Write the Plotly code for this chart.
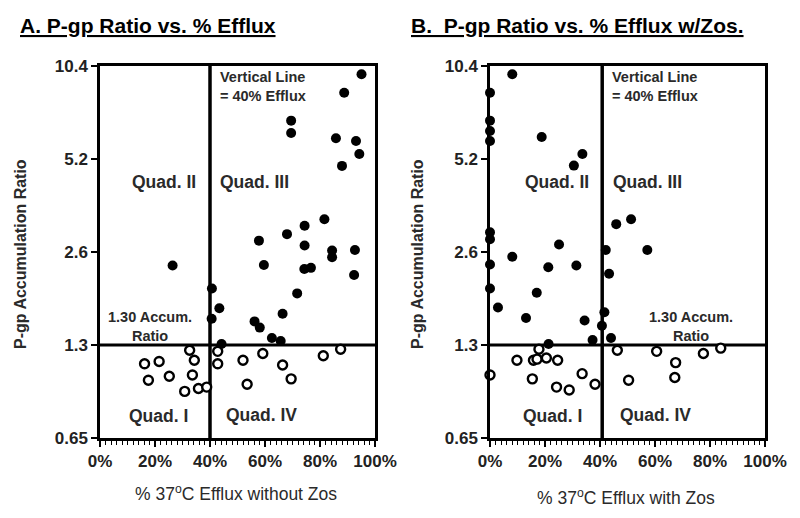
import math
import plotly.graph_objects as go

# ---------------- data ----------------
a_filled_x = [95.1, 88.8, 69.5, 69.5, 85.8, 93.1, 94.3, 88.0, 81.6, 74.4, 68.0, 57.8, 74.4, 84.4, 92.7,
              84.4, 26.4, 59.6, 74.3, 76.7, 92.4, 40.7, 71.7, 43.4, 66.4, 40.6, 56.2, 58.1, 62.5, 65.7, 44.2]
a_filled_y = [9.78, 8.52, 6.92, 6.31, 6.07, 5.95, 5.40, 4.94, 3.32, 3.16, 2.97, 2.83, 2.73, 2.63, 2.64,
              2.50, 2.35, 2.36, 2.29, 2.31, 2.19, 1.98, 1.91, 1.71, 1.64, 1.58, 1.55, 1.48, 1.37, 1.34, 1.31]
a_open_x = [32.6, 42.8, 59.2, 87.5, 81.2, 16.2, 21.5, 34.3, 42.8, 52.0, 66.4, 17.6, 25.2, 33.6, 69.5,
            53.5, 30.8, 35.8, 38.8]
a_open_y = [1.25, 1.24, 1.22, 1.26, 1.20, 1.13, 1.15, 1.16, 1.13, 1.16, 1.12, 1.00, 1.03, 1.04, 1.01,
            0.97, 0.92, 0.94, 0.95]

b_filled_x = [8.1, 0, 0, 0, 0, 18.8, 33.6, 30.5, 51.3, 45.9, 0, 0, 25.1, 42.1, 57.2, 8.1, 0, 21.2, 31.4,
              43.3, 0, 17.0, 2.9, 41.6, 13.1, 34.4, 40.7, 37.3, 44.0, 21.3]
b_filled_y = [9.78, 8.52, 6.92, 6.41, 5.95, 6.13, 5.40, 4.95, 3.32, 3.20, 3.01, 2.86, 2.75, 2.64, 2.64,
              2.51, 2.37, 2.32, 2.35, 2.21, 1.98, 1.92, 1.72, 1.66, 1.59, 1.56, 1.50, 1.35, 1.37, 1.31]
b_open_x = [17.8, 46.3, 60.6, 83.9, 77.6, 9.8, 15.8, 17.1, 20.5, 24.6, 67.5, 0, 15.4, 33.5, 67.2, 50.4,
            38.2, 24.2, 28.8]
b_open_y = [1.26, 1.25, 1.24, 1.27, 1.22, 1.16, 1.16, 1.17, 1.18, 1.16, 1.14, 1.04, 1.01, 1.05, 1.02, 1.00,
            0.97, 0.95, 0.93]

y_ticks = [0.65, 1.3, 2.6, 5.2, 10.4]
y_tick_labels = ["0.65", "1.3", "2.6", "5.2", "10.4"]
x_ticks = [0, 20, 40, 60, 80, 100]
x_tick_labels = ["0%", "20%", "40%", "60%", "80%", "100%"]
ratio_cut = 1.3
efflux_cut_a = 40
efflux_cut_b = 40.8

FONT = "Liberation Sans, Arial, sans-serif"
W, H = 800, 518
OFF = 8  # page body margin offset of the rendered figure

fig = go.Figure()

panels = [
    dict(xa="x", ya="y", fx=a_filled_x, fy=a_filled_y, ox=a_open_x, oy=a_open_y, cut=efflux_cut_a),
    dict(xa="x2", ya="y2", fx=b_filled_x, fy=b_filled_y, ox=b_open_x, oy=b_open_y, cut=efflux_cut_b),
]
for p in panels:
    # quadrant lines
    fig.add_trace(go.Scatter(x=[0, 100], y=[ratio_cut, ratio_cut], mode="lines",
                             line=dict(color="black", width=3), xaxis=p["xa"], yaxis=p["ya"],
                             showlegend=False, hoverinfo="skip", cliponaxis=False))
    fig.add_trace(go.Scatter(x=[p["cut"], p["cut"]], y=[y_ticks[0], y_ticks[-1]], mode="lines",
                             line=dict(color="black", width=3.5), xaxis=p["xa"], yaxis=p["ya"],
                             showlegend=False, hoverinfo="skip", cliponaxis=False))
    fig.add_trace(go.Scatter(x=p["fx"], y=p["fy"], mode="markers",
                             marker=dict(size=10, color="black", line=dict(width=0)),
                             xaxis=p["xa"], yaxis=p["ya"], showlegend=False, cliponaxis=False))
    fig.add_trace(go.Scatter(x=p["ox"], y=p["oy"], mode="markers",
                             marker=dict(size=9, color="white", line=dict(width=2.4, color="black")),
                             xaxis=p["xa"], yaxis=p["ya"], showlegend=False, cliponaxis=False))


def px_x(v):
    return (v - OFF) / W


def px_y(v):
    return 1 - (v - OFF) / H


ydom = [px_y(438), px_y(66)]
xdomA = [px_x(100), px_x(375)]
xdomB = [px_x(490), px_x(765)]


def xaxis(dom, anchor):
    return dict(domain=dom, anchor=anchor, range=[0, 100], tickvals=x_ticks, ticktext=x_tick_labels,
                automargin=False,
                showline=True, linecolor="black", linewidth=2.5, mirror=True, showgrid=False,
                zeroline=False, ticks="outside", ticklen=6, tickwidth=1.5, tickcolor="black",
                tickfont=dict(family=FONT, size=17, color="#222", weight="bold"),
                minor=dict(dtick=2, ticks="outside", ticklen=4, tickwidth=1, tickcolor="black", showgrid=False))


def yaxis(anchor):
    return dict(domain=ydom, anchor=anchor, type="log", automargin=False,
                range=[math.log10(y_ticks[0]), math.log10(y_ticks[-1])],
                tickvals=y_ticks, ticktext=y_tick_labels,
                showline=True, linecolor="black", linewidth=2.5, mirror=True, showgrid=False,
                zeroline=False, ticks="outside", ticklen=6, tickwidth=1.5, tickcolor="black",
                tickfont=dict(family=FONT, size=17, color="#222", weight="bold"))


def x_inner(over, anchor):
    return dict(overlaying=over, anchor=anchor, range=[0, 100], tickvals=x_ticks, showticklabels=False,
                automargin=False, showline=False, showgrid=False, zeroline=False, ticks="inside",
                ticklen=5, tickwidth=1.5, tickcolor="black")


def y_inner(over, anchor):
    return dict(overlaying=over, anchor=anchor, type="log", automargin=False,
                range=[math.log10(y_ticks[0]), math.log10(y_ticks[-1])], tickvals=y_ticks,
                showticklabels=False, showline=False, showgrid=False, zeroline=False, ticks="inside",
                ticklen=5, tickwidth=1.5, tickcolor="black")


fig.update_layout(
    width=W, height=H, margin=dict(l=0, r=0, t=0, b=0),
    paper_bgcolor="white", plot_bgcolor="white",
    xaxis=xaxis(xdomA, "y"), yaxis=yaxis("x"),
    xaxis2=xaxis(xdomB, "y2"), yaxis2=yaxis("x2"),
    xaxis3=x_inner("x", "y"), yaxis3=y_inner("y", "x"),
    xaxis4=x_inner("x2", "y2"), yaxis4=y_inner("y2", "x2"),
    font=dict(family=FONT, color="#222"),
)

ann = []


def t(text, x, y, xref, yref, size, bold=True, xanchor="center", align="center", color="#2a2a2a"):
    ann.append(dict(text=(f"<b>{text}</b>" if bold else text), x=x, y=y, xref=xref, yref=yref,
                    showarrow=False, xanchor=xanchor, yanchor="middle", align=align,
                    font=dict(family=FONT, size=size, color=color)))


for xr, yr, q in [("x domain", "y domain", "A"), ("x2 domain", "y2 domain", "B")]:
    if q == "A":
        pos = dict(q2=(0.231, 0.688), q3=(0.56, 0.688), q1=(0.214, 0.059), q4=(0.588, 0.062),
                   vl=(0.429, 0.944), acc=(0.18, 0.301))
    else:
        pos = dict(q2=(0.244, 0.688), q3=(0.573, 0.688), q1=(0.227, 0.059), q4=(0.60, 0.062),
                   vl=(0.436, 0.944), acc=(0.731, 0.301))
    t("Quad. II", *pos["q2"], xr, yr, 17.5)
    t("Quad. III", *pos["q3"], xr, yr, 17.5)
    t("Quad. I", *pos["q1"], xr, yr, 17.5)
    t("Quad. IV", *pos["q4"], xr, yr, 17.5)
    t("Vertical Line<br>= 40% Efflux", *pos["vl"], xr, yr, 14.5, xanchor="left", align="left")
    t("1.30 Accum.<br>Ratio", *pos["acc"], xr, yr, 14.5)

# panel titles
t("<u>A. P-gp Ratio vs. % Efflux</u>", px_x(18), px_y(25), "paper", "paper", 21, xanchor="left", color="black")
t("<u>B.  P-gp Ratio vs. % Efflux w/Zos.</u>", px_x(409), px_y(25), "paper", "paper", 21, xanchor="left",
  color="black")
# axis titles
t("% 37<sup>o</sup>C Efflux without Zos", px_x(236), px_y(493), "paper", "paper", 17.5, bold=False)
t("% 37<sup>o</sup>C Efflux with Zos", px_x(626), px_y(497), "paper", "paper", 17.5, bold=False)
for xpx in (21, 418):
    ann.append(dict(text="<b>P-gp Accumulation Ratio</b>", x=px_x(xpx), y=px_y(254), xref="paper",
                    yref="paper", showarrow=False, textangle=-90, xanchor="center", yanchor="middle",
                    font=dict(family=FONT, size=16, color="#2a2a2a")))

fig.update_layout(annotations=ann)
fig.write_html("out.html")
